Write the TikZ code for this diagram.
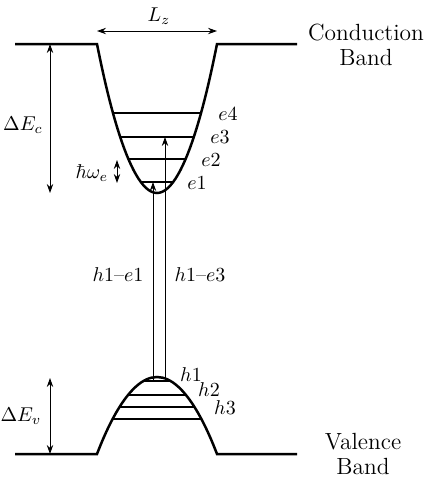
\documentclass[tikz,border=0pt]{standalone}
\usetikzlibrary{arrows.meta}
\begin{document}
\begin{tikzpicture}[x=0.5pt,y=-0.5pt,
  band/.style={line width=1.25pt},
  level/.style={line width=0.7pt},
  tipstyle/.style={line width=0.5pt},
  dbl/.style={tipstyle,{Stealth[length=4.5pt,width=3.2pt]}-{Stealth[length=4.5pt,width=3.2pt]}},
  uparr/.style={tipstyle,-{Stealth[length=4.5pt,width=3.2pt]}},
  lab/.style={inner sep=0pt},
  bandlab/.style={align=center,font=\fontsize{11.7}{12.5}\selectfont,inner sep=0pt}]
\useasboundingbox (0,0) rectangle (429,478);

% conduction band with well
\draw[band] (15,44) -- (97,44) parabola bend (157,193) (217,44) -- (297,44);
% valence band with hill
\draw[band] (15,454) -- (97,454) parabola bend (157,377) (217,454) -- (297,454);

% electron levels
\coordinate (e1l) at (140.7,182); \coordinate (e1r) at (173.3,182);
\coordinate (e2l) at (128.3,159); \coordinate (e2r) at (185.7,159);
\coordinate (e3l) at (120.2,137); \coordinate (e3r) at (193.8,137);
\coordinate (e4l) at (113,113);   \coordinate (e4r) at (201,113);
\draw[level] (e1l) -- (e1r);
\draw[level] (e2l) -- (e2r);
\draw[level] (e3l) -- (e3r);
\draw[level] (e4l) -- (e4r);

% hole levels
\coordinate (h1l) at (143.3,381); \coordinate (h1r) at (170.7,381);
\coordinate (h2l) at (128,395);   \coordinate (h2r) at (186,395);
\coordinate (h3l) at (119.5,407); \coordinate (h3r) at (194.5,407);
\coordinate (h4l) at (112.7,419); \coordinate (h4r) at (201.3,419);
\draw[level] (h1l) -- (h1r);
\draw[level] (h2l) -- (h2r);
\draw[level] (h3l) -- (h3r);
\draw[level] (h4l) -- (h4r);

% transitions
\coordinate (t1b) at (153,381); \coordinate (t1t) at (153,182);
\coordinate (t3b) at (165,381); \coordinate (t3t) at (165,137);
\draw[uparr] (t1b) -- (t1t);
\draw[uparr] (t3b) -- (t3t);

% Delta E arrows
\coordinate (cA) at (50,44);  \coordinate (cB) at (50,193);
\coordinate (vA) at (50,378); \coordinate (vB) at (50,454);
\draw[dbl] (cA) -- (cB);
\draw[dbl] (vA) -- (vB);

% Lz arrow
\coordinate (lzA) at (97,31); \coordinate (lzB) at (217,31);
\draw[dbl] (lzA) -- (lzB);

% hbar omega arrow
\coordinate (wA) at (117,160); \coordinate (wB) at (117,183);
\draw[dbl] (wA) -- (wB);

% labels
\node[lab] (Lz) at (159,16) {$L_z$};
\node[lab] (dEc) at (23,125) {$\Delta E_c$};
\node[lab] (dEv) at (21,416) {$\Delta E_v$};
\node[lab] (hw) at (92,173) {$\hbar\omega_e$};
\node[lab] (le4) at (228,114) {$e4$};
\node[lab] (le3) at (220,137) {$e3$};
\node[lab] (le2) at (211,160) {$e2$};
\node[lab] (le1) at (197,183) {$e1$};
\node[lab] (lh1) at (191,375) {$h1$};
\node[lab] (lh2) at (209,390) {$h2$};
\node[lab] (lh3) at (225,408) {$h3$};
\node[lab] (t11) at (118,275) {$h1$--$e1$};
\node[lab] (t13) at (200,275) {$h1$--$e3$};
\node[bandlab] (cb) at (366,45) {Conduction\\Band};
\node[bandlab] (vb) at (363,454) {Valence\\Band};
\end{tikzpicture}
\end{document}
